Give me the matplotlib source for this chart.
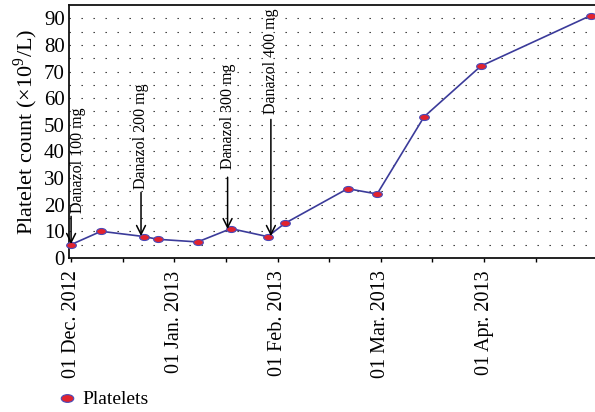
import calendar
import matplotlib
matplotlib.use('Agg')
import matplotlib.pyplot as plt
from matplotlib.path import Path
from matplotlib.lines import Line2D

# ---------------------------------------------------------------------------
# data
# ---------------------------------------------------------------------------
dates = ['2012-12-01', '2012-12-10', '2012-12-23', '2012-12-27', '2013-01-08',
         '2013-01-18', '2013-01-29', '2013-02-03', '2013-02-20', '2013-02-28',
         '2013-03-14', '2013-03-31', '2013-05-02']
platelets = [5, 10, 8, 7, 6, 11, 8, 13, 26, 24, 53, 72, 91]

tick_dates = ['2012-12-01', '2013-01-01', '2013-02-01', '2013-03-01', '2013-04-01']
tick_labels = ['01 Dec. 2012', '01 Jan. 2013', '01 Feb. 2013', '01 Mar. 2013', '01 Apr. 2013']

dose_labels = ['Danazol 100 mg', 'Danazol 200 mg', 'Danazol 300 mg', 'Danazol 400 mg']
arrow_dates = ['2012-12-01', '2012-12-22', '2013-01-17', '2013-01-30']
text_dates = ['2012-12-03', '2012-12-22', '2013-01-17', '2013-01-30']
arrow_tip = [5.2, 8.2, 10.8, 8.2]
arrow_top = [15.6, 24.6, 30.3, 52]
text_bottom = [17.0, 25.8, 33.3, 54]


def month_pos(s):
    # months are drawn with equal width: month index + fraction of the month
    y, m, d = (int(v) for v in s.split('-'))
    ndays = calendar.monthrange(y, m)[1]
    return (y - 2012) * 12 + (m - 12) + (d - 1) / ndays


x = [month_pos(d) for d in dates]

# ---------------------------------------------------------------------------
# style
# ---------------------------------------------------------------------------
plt.rcParams['font.family'] = ['Liberation Serif', 'DejaVu Serif']
plt.rcParams['mathtext.fontset'] = 'custom'
plt.rcParams['mathtext.rm'] = 'Liberation Serif'

LINE = '#3b3b9a'
FILL = '#e2232e'
EDGE = '#4a4ab8'

ell = Path.unit_circle()
ellipse = Path(ell.vertices * [1.0, 0.62], ell.codes)

fig = plt.figure(figsize=(5.95, 4.12), dpi=100)
ax = fig.add_axes([0.116, 0.374, 0.884, 0.614])

ax.plot(x, platelets, color=LINE, lw=1.2, marker=ellipse, ms=7,
        markerfacecolor=FILL, markeredgecolor=EDGE, markeredgewidth=0.8,
        zorder=3, clip_on=False)

for lab, ad, td, tip, top, tb in zip(dose_labels, arrow_dates, text_dates,
                                     arrow_tip, arrow_top, text_bottom):
    ax.annotate('', xy=(month_pos(ad), tip), xytext=(month_pos(ad), top),
                arrowprops=dict(arrowstyle='->', color='black', lw=1.1,
                                shrinkA=0, shrinkB=0, mutation_scale=16))
    ax.text(month_pos(td), tb, lab, rotation=90, ha='center', va='bottom',
            fontsize=11.5, color='black')

# dotted lattice grid
ax.set_yticks(range(0, 91, 10))
ax.set_yticks(range(5, 95, 10), minor=True)
ax.grid(True, axis='y', which='both', color='#222222', lw=0.8,
        linestyle=(0, (1.2, 9.6)))
ax.set_axisbelow(True)

ax.set_xlim(-0.02, 5.075)
ax.set_ylim(0, 95)
ax.set_xticks([month_pos(d) for d in tick_dates])
ax.set_xticklabels(tick_labels, rotation=90, fontsize=14.5)
ax.set_xticks([month_pos(d) + 0.5 for d in tick_dates], minor=True)
ax.tick_params(axis='x', which='both', length=3, width=1, direction='out', pad=6)
ax.tick_params(axis='y', which='both', length=0, labelsize=15, pad=3)

ax.set_ylabel('Platelet count (×10$^{9}$/L)', fontsize=16, labelpad=3)

ax.spines['right'].set_visible(False)
for s in ('left', 'top', 'bottom'):
    ax.spines[s].set_color('#111111')
    ax.spines[s].set_linewidth(1.3)

handle = Line2D([], [], linestyle='none', marker=ellipse, ms=9,
                markerfacecolor=FILL, markeredgecolor=EDGE, markeredgewidth=0.8)
fig.legend([handle], ['Platelets'], loc='center left',
           bbox_to_anchor=(0.085, 0.03), frameon=False, fontsize=14,
           handlelength=0.7, handletextpad=0.45, borderpad=0)

fig.savefig('out.png', dpi=100, facecolor='white')
